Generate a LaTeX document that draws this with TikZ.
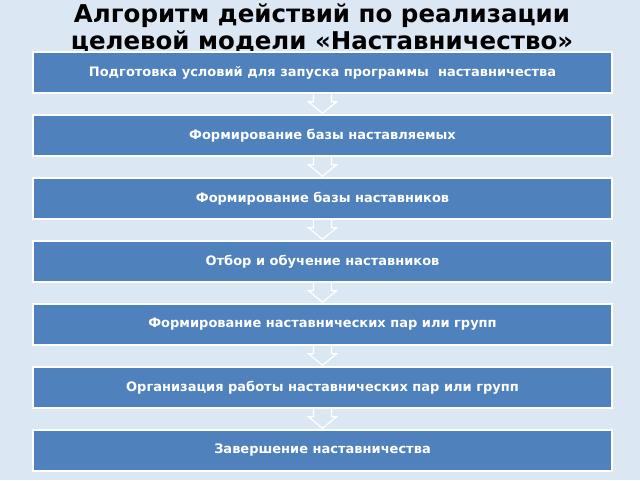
\documentclass[tikz,border=0pt]{standalone}
\usepackage{fontspec}
\setmainfont{DejaVu Sans}
\usetikzlibrary{calc}
\definecolor{bgblue}{HTML}{DCE7F4}
\definecolor{boxblue}{HTML}{4F81BD}
\tikzset{
  stepbox/.style={draw=white, line width=1.5pt, fill=boxblue, minimum width=579pt,
    minimum height=41pt, text=white, font=\bfseries\fontsize{13}{15}\selectfont},
  downarrow/.style={draw=white, line width=1.2pt, fill=bgblue}
}
\begin{document}
\begin{tikzpicture}[x=1pt,y=-1pt]

    % --- Background ---
    \fill[bgblue] (0,0) rectangle (640,480);
    \useasboundingbox (0,0) rectangle (640,480);

    % --- Title ---
    \node[font=\bfseries\fontsize{24.5}{27}\selectfont, align=center] (title) at (322,28)
        {Алгоритм действий по реализации\\целевой модели «Наставничество»};

    % --- Steps ---
    \foreach \i/\txt in {1/Подготовка условий для запуска программы \ наставничества,
                         2/Формирование базы наставляемых,
                         3/Формирование базы наставников,
                         4/Отбор и обучение наставников,
                         5/Формирование наставнических пар или групп,
                         6/Организация работы наставнических пар или групп,
                         7/Завершение наставничества}
        \node[stepbox] (s\i) at (322.5, {72.5 + 63*(\i-1)}) {\txt};

    % --- Arrows between steps ---
    \foreach \i [evaluate=\i as \j using int(\i+1)] in {1,...,6} {
        \draw[downarrow]
            ($(s\i.south)+(-9,0)$) -- ++(0,8) -- ++(-5,0) -- ($(s\j.north)+(0,-1)$)
            -- ($(s\i.south)+(14,8)$) -- ++(-5,0) -- ++(0,-8);
    }

\end{tikzpicture}
\end{document}
